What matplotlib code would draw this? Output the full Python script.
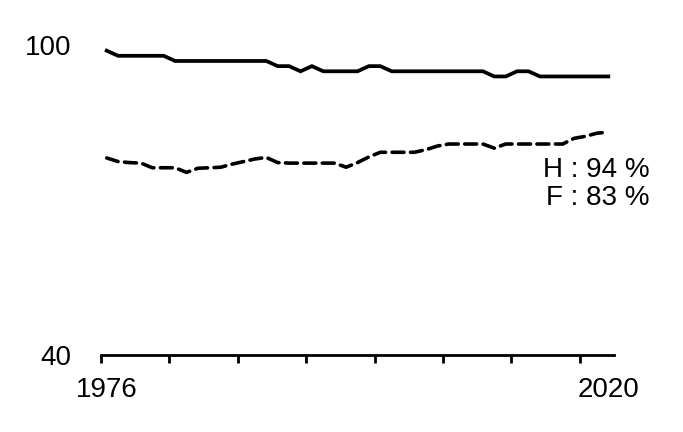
import numpy as np
import matplotlib.pyplot as plt

plt.rcParams['font.family'] = ['Liberation Sans', 'DejaVu Sans']

# data (percent)
years = np.arange(1976, 2021)
hommes = [99, 98, 98, 98, 98, 98, 97, 97, 97, 97,
          97, 97, 97, 97, 97, 96, 96, 95, 96, 95,
          95, 95, 95, 96, 96, 95, 95, 95, 95, 95,
          95, 95, 95, 95, 94, 94, 95, 95, 94, 94,
          94, 94, 94, 94, 94]
femmes = [78.2, 77.5, 77.3, 77.2, 76.3, 76.3, 76.3, 75.4, 76.2, 76.3,
          76.4, 77.0, 77.5, 78.0, 78.3, 77.3, 77.2, 77.2, 77.2, 77.2,
          77.2, 76.4, 77.3, 78.4, 79.3, 79.3, 79.3, 79.3, 79.8, 80.5,
          80.9, 80.9, 80.9, 80.9, 80.1, 80.9, 80.9, 80.9, 80.9, 80.9,
          80.9, 82.0, 82.4, 83.0, 83.2]
labels = ['H : 94 %', 'F : 83 %']

fig = plt.figure(figsize=(6.83, 4.32), dpi=100)
ax = fig.add_axes([101 / 683, 77 / 432, 513 / 683, 309.5 / 432])

ax.plot(years, hommes, color='black', lw=2.7, solid_joinstyle='miter')
ax.plot(years, femmes, color='black', lw=2.6, dashes=(3.3, 1.8),
        dash_capstyle='round')

ax.set_xlim(years[0] - 0.5, years[-1] + 0.5)
ax.set_ylim(40, 100)

for s in ['top', 'right', 'left']:
    ax.spines[s].set_visible(False)
ax.spines['bottom'].set_linewidth(2)

# tick marks between categories, labels on first and last year
ax.set_xticks(np.arange(years[0] - 0.5, years[-1], 6))
ax.set_xticklabels([])
ax.tick_params(axis='x', which='major', length=6, width=2, direction='out')
ax.set_xticks([years[0], years[-1]], minor=True)
ax.set_xticklabels([str(years[0]), str(years[-1])], minor=True, fontsize=20)
ax.tick_params(axis='x', which='minor', length=0, pad=16)

ax.set_yticks([40, 100])
ax.set_yticklabels(['40', '100'], fontsize=20)
ax.tick_params(axis='y', length=0, pad=21)

ax.text(1.07, 75.9, labels[0], transform=ax.get_yaxis_transform(),
        ha='right', va='center', fontsize=20, clip_on=False)
ax.text(1.07, 70.5, labels[1], transform=ax.get_yaxis_transform(),
        ha='right', va='center', fontsize=20, clip_on=False)

fig.savefig('out.png', dpi=100)
